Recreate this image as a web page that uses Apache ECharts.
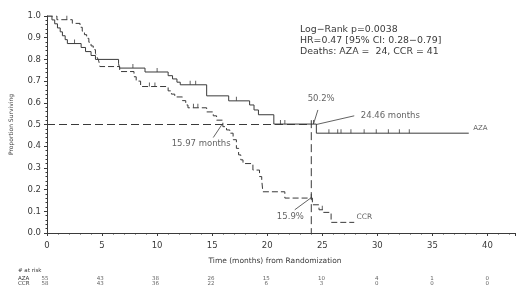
<!DOCTYPE html>
<html>
<head>
<meta charset="utf-8">
<script src="https://cdn.jsdelivr.net/npm/echarts@6/dist/echarts.min.js"></script>
<style>
  html, body { margin: 0; background: #fff; }
  #chart { width: 520px; height: 303px; }
</style>
</head>
<body>
<div id="chart"></div>
<script>
// Kaplan-Meier steps (time in months, proportion surviving)
const azaTimes = [0, 0.45, 0.7, 0.95, 1.2, 1.4, 1.65, 1.85, 3.1, 3.5, 4.0, 4.4, 6.5, 6.6, 8.9, 11.0, 11.4, 11.8, 12.1, 14.5, 16.5, 18.4, 18.8, 19.2, 20.6, 24.46, 38.3];
const azaSurv = [1.0, 0.982, 0.964, 0.945, 0.927, 0.909, 0.891, 0.873, 0.855, 0.836, 0.818, 0.8, 0.78, 0.76, 0.742, 0.725, 0.71, 0.695, 0.683, 0.632, 0.609, 0.59, 0.567, 0.545, 0.502, 0.46, 0.46];
const ccrTimes = [0, 0.9, 2.3, 3.0, 3.2, 3.4, 3.6, 3.8, 4.0, 4.2, 4.4, 4.55, 4.7, 4.8, 6.6, 7.9, 8.1, 8.5, 11.0, 11.3, 11.6, 12.3, 12.6, 12.8, 14.5, 15.1, 15.4, 15.97, 16.3, 16.6, 16.9, 17.2, 17.4, 17.6, 17.8, 18.7, 19.3, 19.5, 19.6, 21.6, 24.1, 24.7, 25.1, 25.8, 27.9];
const ccrSurv = [1.0, 0.983, 0.966, 0.948, 0.93, 0.914, 0.897, 0.879, 0.862, 0.845, 0.828, 0.81, 0.793, 0.767, 0.744, 0.72, 0.7, 0.675, 0.655, 0.64, 0.627, 0.61, 0.59, 0.577, 0.558, 0.54, 0.52, 0.49, 0.475, 0.46, 0.43, 0.39, 0.36, 0.337, 0.32, 0.29, 0.26, 0.245, 0.19, 0.161, 0.13, 0.107, 0.095, 0.049, 0.049];

// censoring marks
const azaCensor = [[2.5, 0.873], [7.8, 0.76], [10.0, 0.742], [13.0, 0.683], [13.5, 0.683], [17.2, 0.609], [21.2, 0.502], [21.6, 0.502], [24.2, 0.502], [25.6, 0.46], [26.4, 0.46], [26.7, 0.46], [27.6, 0.46], [28.8, 0.46], [29.9, 0.46], [31.0, 0.46], [32.0, 0.46], [32.9, 0.46]];
const ccrCensor = [[1.8, 0.983], [9.3, 0.675], [9.8, 0.675], [13.3, 0.577], [13.7, 0.577], [24.0, 0.161], [25.0, 0.107]];

// median reference lines
const medianH = [[0, 0.5], [24.0, 0.5]];
const medianV = [[24.0, 0.52], [24.0, 0]];

// number at risk
const riskTimes = [0, 5, 10, 15, 20, 25, 30, 35, 40];
const riskAza = [55, 43, 38, 26, 15, 10, 4, 1, 0];
const riskCcr = [58, 43, 36, 22, 6, 3, 0, 0, 0];

const statLines = ["Log\u2212Rank p=0.0038", "HR=0.47 [95% CI: 0.28\u22120.79]", "Deaths: AZA =  24, CCR = 41"];

const ink = "#3a3a3a";
const font = "DejaVu Sans";
const zip = (a, b) => a.map((v, i) => [v, b[i]]);

const chart = echarts.init(document.getElementById("chart"));
chart.setOption({
  animation: false,
  textStyle: { fontFamily: font, color: ink },
  grid: [
    { left: 45, top: 16, width: 470, height: 217 },
    { left: 45, top: 276.5, width: 470, height: 10 }
  ],
  xAxis: [
    {
      type: "value", min: 0, max: 42.5, interval: 5,
      name: "Time (months) from Randomization",
      nameLocation: "middle", nameGap: 24,
      nameTextStyle: { fontSize: 7.5, color: ink, padding: [0, 12, 0, 0] },
      axisLine: { lineStyle: { color: ink } },
      axisTick: { length: 3, lineStyle: { color: ink } },
      minorTick: { show: true, splitNumber: 5, length: 1.5, lineStyle: { color: ink } },
      axisLabel: { fontSize: 8.5, color: ink, margin: 8, showMaxLabel: false },
      splitLine: { show: false }
    },
    { type: "value", gridIndex: 1, min: 0, max: 42.5, show: false }
  ],
  yAxis: [
    {
      type: "value", min: 0, max: 1, interval: 0.1,
      name: "Proportion Surviving",
      nameLocation: "middle", nameGap: 33,
      nameTextStyle: { fontSize: 6, color: ink },
      axisLine: { show: true, lineStyle: { color: ink } },
      axisTick: { show: true, length: 3, lineStyle: { color: ink } },
      minorTick: { show: true, splitNumber: 5, length: 1.5, lineStyle: { color: ink } },
      axisLabel: { fontSize: 8.5, color: ink, margin: 6, formatter: v => v.toFixed(1) },
      splitLine: { show: false }
    },
    {
      type: "category", gridIndex: 1, inverse: true, data: ["AZA", "CCR"],
      axisLine: { show: false }, axisTick: { show: false },
      axisLabel: { fontSize: 5.5, color: ink, align: "left", margin: 27, interval: 0 }
    }
  ],
  graphic: [
    { type: "text", left: 18, top: 268, style: { text: "# at risk", font: "5.5px " + font, fill: ink } },
    { type: "text", left: 300, top: 24, style: { text: statLines.join("\n"), font: "9.4px " + font, fill: ink, lineHeight: 11 } }
  ],
  series: [
    {
      name: "AZA", type: "line", step: "end", showSymbol: false,
      data: zip(azaTimes, azaSurv),
      lineStyle: { color: ink, width: 1 }
    },
    {
      name: "CCR", type: "line", step: "end", showSymbol: false,
      data: zip(ccrTimes, ccrSurv),
      lineStyle: { color: ink, width: 1, type: [6, 3] }
    },
    {
      type: "line", showSymbol: false, data: medianH,
      lineStyle: { color: ink, width: 1, type: [8, 4] }
    },
    {
      type: "line", showSymbol: false, data: medianV,
      lineStyle: { color: ink, width: 1, type: [8, 4] }
    },
    {
      type: "scatter", data: azaCensor, symbol: "rect", symbolSize: [1, 4], symbolOffset: [0, -2],
      itemStyle: { color: ink }
    },
    {
      type: "scatter", data: ccrCensor, symbol: "rect", symbolSize: [1, 4], symbolOffset: [0, -2],
      itemStyle: { color: ink }
    },
    {
      // leader lines + annotation text
      type: "scatter", symbolSize: 0,
      data: [
        { value: [24.9, 0.62], label: { formatter: "50.2%" } },
        { value: [28.5, 0.54], label: { formatter: "24.46 months", align: "left" } },
        { value: [14.0, 0.41], label: { formatter: "15.97 months" } },
        { value: [22.1, 0.073], label: { formatter: "15.9%" } },
        { value: [38.7, 0.485], label: { formatter: "AZA", align: "left", fontSize: 7 } },
        { value: [28.1, 0.075], label: { formatter: "CCR", align: "left", fontSize: 7.5 } }
      ],
      label: { show: true, position: "inside", fontSize: 8.5, color: ink, fontFamily: font },
      markLine: {
        silent: true, symbol: "none",
        lineStyle: { color: ink, width: 0.8, type: "solid" },
        label: { show: false },
        data: [
          [{ coord: [24.2, 0.502] }, { coord: [24.6, 0.567] }],
          [{ coord: [24.46, 0.5] }, { coord: [27.9, 0.54] }],
          [{ coord: [15.85, 0.497] }, { coord: [15.1, 0.44] }],
          [{ coord: [24.0, 0.163] }, { coord: [22.5, 0.107] }]
        ]
      }
    },
    {
      type: "scatter", xAxisIndex: 1, yAxisIndex: 1, symbolSize: 0,
      data: riskTimes.map((t, i) => [t, "AZA", riskAza[i]]).concat(riskTimes.map((t, i) => [t, "CCR", riskCcr[i]])),
      label: { show: true, position: "inside", fontSize: 5.5, color: ink, fontFamily: font, formatter: p => p.value[2] }
    }
  ]
});
</script>
</body>
</html>
